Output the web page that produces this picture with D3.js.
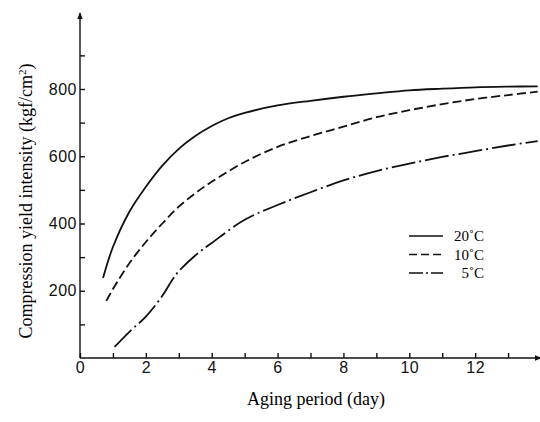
<!DOCTYPE html>
<meta charset="utf-8">
<style>
body { margin: 0; background: #fff; }
svg { font-family: "Liberation Serif", "DejaVu Serif", serif; }
.axis text { font-size: 16px; fill: #111; letter-spacing: 0.5px; }
.axis line, .axis path { stroke: #111; stroke-width: 1.4px; }
.curve { fill: none; stroke: #111; stroke-width: 1.8px; }
</style>
<svg width="540" height="422"></svg>
<script src="https://d3js.org/d3.v7.min.js"></script>
<script>

// aging period (day) and yield intensity (kgf/cm2)
var days20 = [0.7, 1, 1.5, 2, 2.5, 3, 3.5, 4, 4.5, 5, 6, 7, 8, 9, 10, 11, 12, 13, 13.9];
var vals20 = [238, 330, 435, 509, 572, 622, 660, 690, 713, 729, 751, 765, 777, 787, 796, 801, 805, 807, 808];

var days10 = [0.8, 1, 1.5, 2, 2.5, 3, 3.5, 4, 5, 6, 7, 8, 9, 10, 11, 12, 13, 13.9];
var vals10 = [170, 205, 282, 345, 400, 450, 490, 524, 583, 628, 660, 688, 716, 737, 755, 770, 782, 792];

var days5 = [1.05, 1.5, 2, 2.5, 2.8, 3, 3.5, 4, 5, 6, 7, 8, 9, 10, 11, 12, 13, 13.9];
var vals5 = [33, 78, 123, 185, 232, 258, 305, 342, 411, 455, 493, 528, 556, 578, 598, 615, 632, 645];

var seriesNames = ["20˚C", "10˚C", "5˚C"];
var dashes = [null, "9,4", "24,4,2,4"];

var xTicks = d3.range(0, 14);
var yTicks = d3.range(100, 1000, 100);

var svg = d3.select("svg");

var x = d3.scaleLinear().domain([0, 14]).range([80, 541]);
var y = d3.scaleLinear().domain([0, 800]).range([358, 89]);

svg.append("defs").append("marker")
    .attr("id", "arrow")
    .attr("viewBox", "0 0 10 10")
    .attr("refX", 9).attr("refY", 5)
    .attr("markerWidth", 7).attr("markerHeight", 7)
    .attr("markerUnits", "userSpaceOnUse")
    .attr("orient", "auto")
  .append("path")
    .attr("d", "M0,1L10,5L0,9Z")
    .attr("fill", "#111");

// x axis
var xAxis = svg.append("g")
    .attr("class", "axis")
    .attr("transform", "translate(0," + y(0) + ")")
    .call(d3.axisBottom(x)
      .tickValues(xTicks)
      .tickSize(-5)
      .tickSizeOuter(0)
      .tickPadding(4)
      .tickFormat(function(d) { return d % 2 === 0 ? d : ""; }));
xAxis.select(".domain").remove();
xAxis.append("line")
    .attr("x1", x(0)).attr("x2", x(14))
    .attr("marker-end", "url(#arrow)");

// y axis
var yAxis = svg.append("g")
    .attr("class", "axis")
    .attr("transform", "translate(" + x(0) + ",0)")
    .call(d3.axisLeft(y)
      .tickValues(yTicks)
      .tickSize(-5)
      .tickSizeOuter(0)
      .tickPadding(3)
      .tickFormat(function(d) { return d % 200 === 0 ? d : ""; }));
yAxis.select(".domain").remove();
yAxis.append("line")
    .attr("y1", y(0)).attr("y2", 13)
    .attr("marker-end", "url(#arrow)");

// curves
var line = d3.line()
    .x(function(d) { return x(d[0]); })
    .y(function(d) { return y(d[1]); })
    .curve(d3.curveCatmullRom.alpha(0.5));

var series = [d3.zip(days20, vals20), d3.zip(days10, vals10), d3.zip(days5, vals5)];

svg.selectAll(".curve")
    .data(series)
  .enter().append("path")
    .attr("class", "curve")
    .attr("d", line)
    .attr("stroke-dasharray", function(d, i) { return dashes[i]; });

// legend
var legend = svg.append("g").attr("transform", "translate(409,236)");
legend.selectAll("line")
    .data(seriesNames)
  .enter().append("line")
    .attr("x1", 0).attr("x2", 34)
    .attr("y1", function(d, i) { return i * 18.5; })
    .attr("y2", function(d, i) { return i * 18.5; })
    .attr("stroke", "#111")
    .attr("stroke-width", 1.4)
    .attr("stroke-dasharray", function(d, i) { return i === 0 ? null : (i === 1 ? "8,4" : "14,3,2,3"); });
legend.selectAll("text")
    .data(seriesNames)
  .enter().append("text")
    .attr("x", 75)
    .attr("y", function(d, i) { return i * 18.5 + 5; })
    .attr("text-anchor", "end")
    .style("font-size", "15px")
    .text(function(d) { return d; });

// axis titles
svg.append("text")
    .attr("transform", "translate(32,201)rotate(-90)")
    .attr("text-anchor", "middle")
    .style("font-size", "18px")
    .html('Compression yield intensity (kgf/cm<tspan dy="-6" font-size="11px">2</tspan><tspan dy="6">)</tspan>');

svg.append("text")
    .attr("x", 316)
    .attr("y", 405)
    .attr("text-anchor", "middle")
    .style("font-size", "18px")
    .text("Aging period (day)");

</script>
